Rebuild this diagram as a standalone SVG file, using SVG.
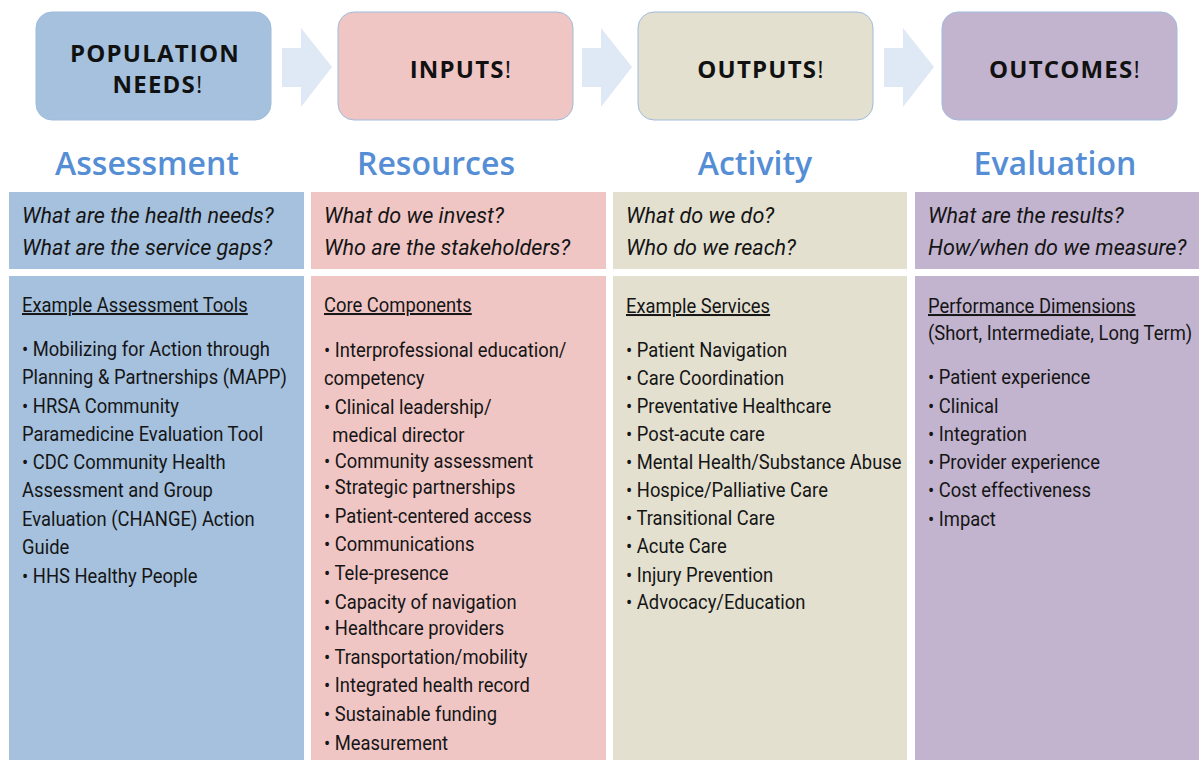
<svg xmlns="http://www.w3.org/2000/svg" width="1199" height="760" viewBox="0 0 1199 760">
<defs>
<style>
.title{font-family:"Open Sans","DejaVu Sans",sans-serif;font-weight:700;font-size:24px;fill:#111;text-anchor:middle;letter-spacing:1.2px}
.bang{font-weight:400}
.head{font-family:"Open Sans","DejaVu Sans",sans-serif;font-weight:600;font-size:32px;fill:#558ed5;text-anchor:middle}
.q{font-family:Roboto,"Liberation Sans",sans-serif;font-style:italic;font-size:22px;fill:#151515}
.b{font-family:Roboto,"Liberation Sans",sans-serif;font-size:20px;fill:#151515}
.u{text-decoration:underline}
.box{stroke:#9fbcdc;stroke-width:1}
.arrow{fill:#dfe9f5}
</style>
</defs>
<rect width="1199" height="760" fill="#ffffff"/>

<g id="connectors">
<path class="arrow" d="M282,48 H301 V28 L332,67 L301,107 V87 H282 Z"/>
<path class="arrow" d="M582,48 H601 V28 L632,67 L601,107 V87 H582 Z"/>
<path class="arrow" d="M884,48 H903 V28 L934,67 L903,107 V87 H884 Z"/>
</g>

<g id="node-population-needs">
<rect class="box" x="36" y="12" width="235" height="108" rx="16" fill="#a5c1de"/>
<text class="title" x="155" y="62">POPULATION</text>
<text class="title" x="158" y="93">NEEDS<tspan class="bang">!</tspan></text>
</g>
<g id="node-inputs">
<rect class="box" x="338" y="12" width="235" height="108" rx="16" fill="#f0c6c5"/>
<text class="title" x="461" y="78">INPUTS<tspan class="bang">!</tspan></text>
</g>
<g id="node-outputs">
<rect class="box" x="638" y="12" width="235" height="108" rx="16" fill="#e3e0d0"/>
<text class="title" x="761" y="78">OUTPUTS<tspan class="bang">!</tspan></text>
</g>
<g id="node-outcomes">
<rect class="box" x="942" y="12" width="235" height="108" rx="16" fill="#c2b3cf"/>
<text class="title" x="1065" y="78">OUTCOMES<tspan class="bang">!</tspan></text>
</g>

<g id="headings">
<text class="head" x="147" y="175">Assessment</text>
<text class="head" x="436" y="175">Resources</text>
<text class="head" x="755" y="175">Activity</text>
<text class="head" x="1055" y="175">Evaluation</text>
</g>

<g id="col-assessment">
<rect x="9" y="192" width="295" height="77" fill="#a5c1de"/>
<rect x="9" y="276" width="295" height="484" fill="#a5c1de"/>
<g transform="translate(22,0) scale(0.98,1)">
<text class="q" x="0" y="223">What are the health needs?</text>
<text class="q" x="0" y="255">What are the service gaps?</text>
</g>
<g transform="translate(22,0) scale(0.92,1)">
<text class="b u" x="0" y="312">Example Assessment Tools</text>
<text class="b" x="0" y="356">• Mobilizing for Action through</text>
<text class="b" x="0" y="384">Planning &amp; Partnerships (MAPP)</text>
<text class="b" x="0" y="413">• HRSA Community</text>
<text class="b" x="0" y="441">Paramedicine Evaluation Tool</text>
<text class="b" x="0" y="469">• CDC Community Health</text>
<text class="b" x="0" y="497">Assessment and Group</text>
<text class="b" x="0" y="526">Evaluation (CHANGE) Action</text>
<text class="b" x="0" y="554">Guide</text>
<text class="b" x="0" y="583">• HHS Healthy People</text>
</g>
</g>

<g id="col-resources">
<rect x="311" y="192" width="295" height="77" fill="#f0c6c5"/>
<rect x="311" y="276" width="295" height="484" fill="#f0c6c5"/>
<g transform="translate(324,0) scale(0.98,1)">
<text class="q" x="0" y="223">What do we invest?</text>
<text class="q" x="0" y="255">Who are the stakeholders?</text>
</g>
<g transform="translate(324,0) scale(0.92,1)">
<text class="b u" x="0" y="312">Core Components</text>
<text class="b" x="0" y="357">• Interprofessional education/</text>
<text class="b" x="0" y="385">competency</text>
<text class="b" x="0" y="414">• Clinical leadership/</text>
<text class="b" x="9" y="442">medical director</text>
<text class="b" x="0" y="468">• Community assessment</text>
<text class="b" x="0" y="494">• Strategic partnerships</text>
<text class="b" x="0" y="523">• Patient-centered access</text>
<text class="b" x="0" y="551">• Communications</text>
<text class="b" x="0" y="580">• Tele-presence</text>
<text class="b" x="0" y="609">• Capacity of navigation</text>
<text class="b" x="0" y="635">• Healthcare providers</text>
<text class="b" x="0" y="664">• Transportation/mobility</text>
<text class="b" x="0" y="692">• Integrated health record</text>
<text class="b" x="0" y="721">• Sustainable funding</text>
<text class="b" x="0" y="750">• Measurement</text>
</g>
</g>

<g id="col-activity">
<rect x="613" y="192" width="294" height="77" fill="#e3e0d0"/>
<rect x="613" y="276" width="294" height="484" fill="#e3e0d0"/>
<g transform="translate(626,0) scale(0.98,1)">
<text class="q" x="0" y="223">What do we do?</text>
<text class="q" x="0" y="255">Who do we reach?</text>
</g>
<g transform="translate(626,0) scale(0.92,1)">
<text class="b u" x="0" y="313">Example Services</text>
<text class="b" x="0" y="357">• Patient Navigation</text>
<text class="b" x="0" y="385">• Care Coordination</text>
<text class="b" x="0" y="413">• Preventative Healthcare</text>
<text class="b" x="0" y="441">• Post-acute care</text>
<text class="b" x="0" y="469">• Mental Health/Substance Abuse</text>
<text class="b" x="0" y="497">• Hospice/Palliative Care</text>
<text class="b" x="0" y="525">• Transitional Care</text>
<text class="b" x="0" y="553">• Acute Care</text>
<text class="b" x="0" y="582">• Injury Prevention</text>
<text class="b" x="0" y="609">• Advocacy/Education</text>
</g>
</g>

<g id="col-evaluation">
<rect x="915" y="192" width="284" height="77" fill="#c2b3cf"/>
<rect x="915" y="276" width="284" height="484" fill="#c2b3cf"/>
<g transform="translate(928,0) scale(0.98,1)">
<text class="q" x="0" y="223">What are the results?</text>
<text class="q" x="0" y="255">How/when do we measure?</text>
</g>
<g transform="translate(928,0) scale(0.92,1)">
<text class="b u" x="0" y="313">Performance Dimensions</text>
<text class="b" x="0" y="340">(Short, Intermediate, Long Term)</text>
<text class="b" x="0" y="384">• Patient experience</text>
<text class="b" x="0" y="413">• Clinical</text>
<text class="b" x="0" y="441">• Integration</text>
<text class="b" x="0" y="469">• Provider experience</text>
<text class="b" x="0" y="497">• Cost effectiveness</text>
<text class="b" x="0" y="526">• Impact</text>
</g>
</g>
</svg>
